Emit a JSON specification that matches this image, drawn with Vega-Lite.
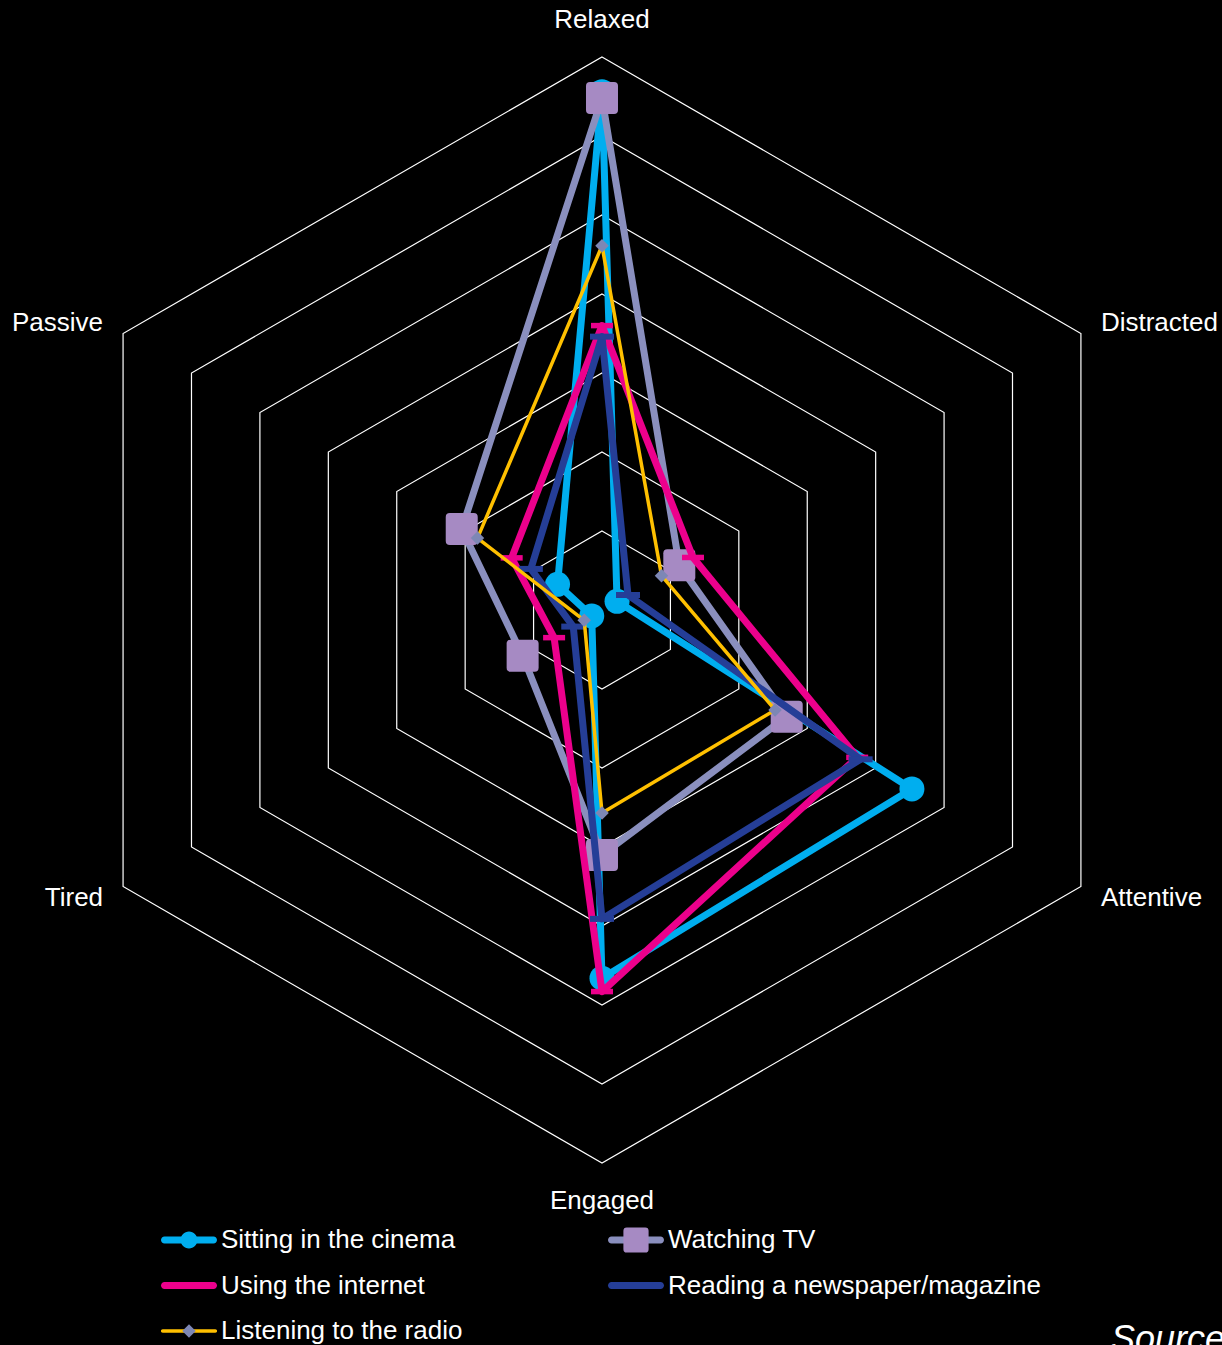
{
  "$schema": "https://vega.github.io/schema/vega-lite/v6.json",
  "width": 1222,
  "height": 1300,
  "autosize": {"type": "none"},
  "padding": {"left": 0, "top": 0, "right": 0, "bottom": 45},
  "background": "#000000",
  "config": {"view": {"stroke": null}, "font": "Liberation Sans"},
  "title": {"text": "Source: ", "orient": "bottom", "anchor": "start", "frame": "group", "dx": 1111, "offset": 7, "font": "Liberation Sans", "fontSize": 36, "fontStyle": "italic", "fontWeight": "normal", "color": "#FFFFFF", "baseline": "alphabetic"},
  "datasets": {
    "scores": [
      {"series": "Sitting in the cinema", "axis": "Relaxed", "k": 0, "value": 65.6},
      {"series": "Sitting in the cinema", "axis": "Distracted", "k": 1, "value": 2.2},
      {"series": "Sitting in the cinema", "axis": "Attentive", "k": 2, "value": 45.3},
      {"series": "Sitting in the cinema", "axis": "Engaged", "k": 3, "value": 46.6},
      {"series": "Sitting in the cinema", "axis": "Tired", "k": 4, "value": 1.5},
      {"series": "Sitting in the cinema", "axis": "Passive", "k": 5, "value": 6.5},
      {"series": "Watching TV", "axis": "Relaxed", "k": 0, "value": 64.8},
      {"series": "Watching TV", "axis": "Distracted", "k": 1, "value": 11.3},
      {"series": "Watching TV", "axis": "Attentive", "k": 2, "value": 27.0},
      {"series": "Watching TV", "axis": "Engaged", "k": 3, "value": 31.0},
      {"series": "Watching TV", "axis": "Tired", "k": 4, "value": 11.6},
      {"series": "Watching TV", "axis": "Passive", "k": 5, "value": 20.5},
      {"series": "Using the internet", "axis": "Relaxed", "k": 0, "value": 36.0},
      {"series": "Using the internet", "axis": "Distracted", "k": 1, "value": 13.3},
      {"series": "Using the internet", "axis": "Attentive", "k": 2, "value": 37.3},
      {"series": "Using the internet", "axis": "Engaged", "k": 3, "value": 48.3},
      {"series": "Using the internet", "axis": "Tired", "k": 4, "value": 7.0},
      {"series": "Using the internet", "axis": "Passive", "k": 5, "value": 13.2},
      {"series": "Reading a newspaper/magazine", "axis": "Relaxed", "k": 0, "value": 34.6},
      {"series": "Reading a newspaper/magazine", "axis": "Distracted", "k": 1, "value": 3.8},
      {"series": "Reading a newspaper/magazine", "axis": "Attentive", "k": 2, "value": 37.8},
      {"series": "Reading a newspaper/magazine", "axis": "Engaged", "k": 3, "value": 39.1},
      {"series": "Reading a newspaper/magazine", "axis": "Tired", "k": 4, "value": 4.2},
      {"series": "Reading a newspaper/magazine", "axis": "Passive", "k": 5, "value": 10.4},
      {"series": "Listening to the radio", "axis": "Relaxed", "k": 0, "value": 46.1},
      {"series": "Listening to the radio", "axis": "Distracted", "k": 1, "value": 8.7},
      {"series": "Listening to the radio", "axis": "Attentive", "k": 2, "value": 25.3},
      {"series": "Listening to the radio", "axis": "Engaged", "k": 3, "value": 25.7},
      {"series": "Listening to the radio", "axis": "Tired", "k": 4, "value": 2.6},
      {"series": "Listening to the radio", "axis": "Passive", "k": 5, "value": 18.2}
    ],
    "rings": [
      {"ring": 10, "k": [0, 1, 2, 3, 4, 5]},
      {"ring": 20, "k": [0, 1, 2, 3, 4, 5]},
      {"ring": 30, "k": [0, 1, 2, 3, 4, 5]},
      {"ring": 40, "k": [0, 1, 2, 3, 4, 5]},
      {"ring": 50, "k": [0, 1, 2, 3, 4, 5]},
      {"ring": 60, "k": [0, 1, 2, 3, 4, 5]},
      {"ring": 70, "k": [0, 1, 2, 3, 4, 5]}
    ],
    "axes": [
      {"axis": "Relaxed", "k": 0, "value": 70},
      {"axis": "Distracted", "k": 1, "value": 70},
      {"axis": "Attentive", "k": 2, "value": 70},
      {"axis": "Engaged", "k": 3, "value": 70},
      {"axis": "Tired", "k": 4, "value": 70},
      {"axis": "Passive", "k": 5, "value": 70}
    ]
  },
  "resolve": {"scale": {"fill": "independent", "shape": "independent"}},
  "layer": [
    {
      "data": {"name": "rings"},
      "transform": [
        {"flatten": ["k"]},
        {"calculate": "datum.ring * sin(datum.k * PI / 3)", "as": "px"},
        {"calculate": "datum.ring * cos(datum.k * PI / 3)", "as": "py"}
      ],
      "mark": {"type": "line", "interpolate": "linear-closed", "color": "#FFFFFF", "strokeWidth": 1.2},
      "encoding": {
        "x": {"field": "px", "type": "quantitative", "scale": {"domain": [-76.2, 78.48], "nice": false, "zero": false}, "axis": null},
        "y": {"field": "py", "type": "quantitative", "scale": {"domain": [-87.342, 77.215], "nice": false, "zero": false}, "axis": null},
        "detail": {"field": "ring", "type": "nominal"},
        "order": {"field": "k", "type": "quantitative"}
      }
    },
    {
      "data": {"name": "axes"},
      "transform": [
        {"calculate": "datum.value * sin(datum.k * PI / 3)", "as": "px"},
        {"calculate": "datum.value * cos(datum.k * PI / 3)", "as": "py"}
      ],
      "encoding": {
        "x": {"field": "px", "type": "quantitative"},
        "y": {"field": "py", "type": "quantitative"},
        "text": {"field": "axis", "type": "nominal"}
      },
      "layer": [
        {"transform": [{"filter": "datum.k == 0"}], "mark": {"type": "text", "font": "Liberation Sans", "fontSize": 26, "color": "#FFFFFF", "align": "center", "baseline": "alphabetic", "dy": -29}},
        {"transform": [{"filter": "datum.k == 3"}], "mark": {"type": "text", "font": "Liberation Sans", "fontSize": 26, "color": "#FFFFFF", "align": "center", "baseline": "alphabetic", "dy": 46}},
        {"transform": [{"filter": "datum.k == 1"}], "mark": {"type": "text", "font": "Liberation Sans", "fontSize": 26, "color": "#FFFFFF", "align": "left", "baseline": "alphabetic", "dx": 20, "dy": -2.5}},
        {"transform": [{"filter": "datum.k == 2"}], "mark": {"type": "text", "font": "Liberation Sans", "fontSize": 26, "color": "#FFFFFF", "align": "left", "baseline": "alphabetic", "dx": 20, "dy": 19.5}},
        {"transform": [{"filter": "datum.k == 4"}], "mark": {"type": "text", "font": "Liberation Sans", "fontSize": 26, "color": "#FFFFFF", "align": "right", "baseline": "alphabetic", "dx": -20, "dy": 19.5}},
        {"transform": [{"filter": "datum.k == 5"}], "mark": {"type": "text", "font": "Liberation Sans", "fontSize": 26, "color": "#FFFFFF", "align": "right", "baseline": "alphabetic", "dx": -20, "dy": -2.5}}
      ]
    },
    {
      "data": {"name": "scores"},
      "transform": [
        {"calculate": "datum.value * sin(datum.k * PI / 3)", "as": "px"},
        {"calculate": "datum.value * cos(datum.k * PI / 3)", "as": "py"}
      ],
      "encoding": {
        "x": {"field": "px", "type": "quantitative"},
        "y": {"field": "py", "type": "quantitative"},
        "order": {"field": "k", "type": "quantitative"}
      },
      "layer": [
        {"transform": [{"filter": "datum.series == 'Sitting in the cinema'"}], "mark": {"type": "line", "interpolate": "linear-closed", "color": "#00AEEF", "strokeWidth": 7, "strokeJoin": "round", "strokeCap": "round"}},
        {"transform": [{"filter": "datum.series == 'Sitting in the cinema'"}], "mark": {"type": "point", "shape": "circle", "filled": true, "size": 625, "color": "#00AEEF", "opacity": 1, "strokeWidth": 0}},
        {"transform": [{"filter": "datum.series == 'Watching TV'"}], "mark": {"type": "line", "interpolate": "linear-closed", "color": "#8A8FBE", "strokeWidth": 7, "strokeJoin": "round", "strokeCap": "round"}},
        {"transform": [{"filter": "datum.series == 'Watching TV'"}], "mark": {"type": "point", "shape": "M-1,-0.75Q-1,-1,-0.75,-1H0.75Q1,-1,1,-0.75V0.75Q1,1,0.75,1H-0.75Q-1,1,-1,0.75Z", "filled": true, "size": 1024, "color": "#A68AC3", "opacity": 1, "strokeWidth": 0}},
        {"transform": [{"filter": "datum.series == 'Using the internet'"}], "mark": {"type": "line", "interpolate": "linear-closed", "color": "#EC008C", "strokeWidth": 7, "strokeJoin": "round", "strokeCap": "round"}},
        {"transform": [{"filter": "datum.series == 'Using the internet'"}], "mark": {"type": "point", "shape": "M-1,-0.25H1V0.25H-1Z", "filled": true, "size": 484, "color": "#EC008C", "opacity": 1, "strokeWidth": 0}},
        {"transform": [{"filter": "datum.series == 'Reading a newspaper/magazine'"}], "mark": {"type": "line", "interpolate": "linear-closed", "color": "#253E97", "strokeWidth": 7, "strokeJoin": "round", "strokeCap": "round"}},
        {"transform": [{"filter": "datum.series == 'Reading a newspaper/magazine'"}], "mark": {"type": "point", "shape": "M-1,-0.25H1V0.25H-1Z", "filled": true, "size": 576, "color": "#253E97", "opacity": 1, "strokeWidth": 0}},
        {"transform": [{"filter": "datum.series == 'Listening to the radio'"}], "mark": {"type": "line", "interpolate": "linear-closed", "color": "#FFC000", "strokeWidth": 3.5, "strokeJoin": "round", "strokeCap": "round"}},
        {"transform": [{"filter": "datum.series == 'Listening to the radio'"}], "mark": {"type": "point", "shape": "diamond", "filled": true, "size": 182, "color": "#7D87B5", "opacity": 1, "strokeWidth": 0}}
      ]
    },
    {
      "data": {"name": "scores"},
      "transform": [{"filter": "false"}],
      "mark": {"type": "point", "filled": true, "opacity": 1, "strokeWidth": 0},
      "encoding": {
        "fill": {"field": "series", "type": "nominal",
          "scale": {"domain": ["Sitting in the cinema", "Watching TV", "Using the internet", "Reading a newspaper/magazine", "Listening to the radio"], "range": ["#00AEEF", "#8A8FBE", "#EC008C", "#253E97", "#FFC000"]},
          "legend": {"title": null, "orient": "none", "direction": "horizontal", "legendX": 161, "legendY": 1212, "columns": 2, "columnPadding": 145, "rowPadding": 4.5, "symbolSize": 3136, "symbolStrokeWidth": 0, "symbolOffset": 0, "labelFont": "Liberation Sans", "labelFontSize": 26, "labelColor": "#FFFFFF", "labelOffset": 4, "labelLimit": 0, "padding": 0}},
        "shape": {"field": "series", "type": "nominal",
          "scale": {"domain": ["Sitting in the cinema", "Watching TV", "Using the internet", "Reading a newspaper/magazine", "Listening to the radio"], "range": [
            "M-0.875,-0.125H0.875A0.125,0.125,0,0,1,0.875,0.125H-0.875A0.125,0.125,0,0,1,-0.875,-0.125Z",
            "M-0.875,-0.125H0.875A0.125,0.125,0,0,1,0.875,0.125H-0.875A0.125,0.125,0,0,1,-0.875,-0.125Z",
            "M-0.875,-0.125H0.875A0.125,0.125,0,0,1,0.875,0.125H-0.875A0.125,0.125,0,0,1,-0.875,-0.125Z",
            "M-0.875,-0.125H0.875A0.125,0.125,0,0,1,0.875,0.125H-0.875A0.125,0.125,0,0,1,-0.875,-0.125Z",
            "M-0.94,-0.0625H0.94A0.0625,0.0625,0,0,1,0.94,0.0625H-0.94A0.0625,0.0625,0,0,1,-0.94,-0.0625Z"]},
          "legend": {"title": null, "orient": "none", "direction": "horizontal", "legendX": 161, "legendY": 1212, "columns": 2, "columnPadding": 145, "rowPadding": 4.5, "symbolSize": 3136, "symbolStrokeWidth": 0, "symbolOffset": 0, "labelFont": "Liberation Sans", "labelFontSize": 26, "labelColor": "#FFFFFF", "labelOffset": 4, "labelLimit": 0, "padding": 0}}
      }
    },
    {
      "data": {"name": "scores"},
      "transform": [{"filter": "false"}],
      "mark": {"type": "point", "filled": true, "opacity": 1, "strokeWidth": 0},
      "encoding": {
        "fill": {"field": "series", "type": "nominal",
          "scale": {"domain": ["Sitting in the cinema", "Watching TV", "Using the internet", "Reading a newspaper/magazine", "Listening to the radio"], "range": ["#00AEEF", "#A68AC3", "#EC008C", "#253E97", "#7D87B5"]},
          "legend": {"title": null, "orient": "none", "direction": "horizontal", "legendX": 161, "legendY": 1212, "columns": 2, "columnPadding": 145, "rowPadding": 4.5, "symbolSize": 3136, "symbolStrokeWidth": 0, "symbolOffset": 0, "labelFont": "Liberation Sans", "labelFontSize": 26, "labelColor": "#FFFFFF", "labelOpacity": 0, "labelOffset": 4, "labelLimit": 0, "padding": 0}},
        "shape": {"field": "series", "type": "nominal",
          "scale": {"domain": ["Sitting in the cinema", "Watching TV", "Using the internet", "Reading a newspaper/magazine", "Listening to the radio"], "range": [
            "M-1,0L1,0M-0.3,0A0.3,0.3,0,1,1,0.3,0A0.3,0.3,0,1,1,-0.3,0Z",
            "M-1,0L1,0M-0.45,-0.33Q-0.45,-0.45,-0.33,-0.45H0.33Q0.45,-0.45,0.45,-0.33V0.33Q0.45,0.45,0.33,0.45H-0.33Q-0.45,0.45,-0.45,0.33Z",
            "M-1,0L1,0",
            "M-1,0L1,0",
            "M-1,0L1,0M0,-0.24L0.24,0L0,0.24L-0.24,0Z"]},
          "legend": {"title": null, "orient": "none", "direction": "horizontal", "legendX": 161, "legendY": 1212, "columns": 2, "columnPadding": 145, "rowPadding": 4.5, "symbolSize": 3136, "symbolStrokeWidth": 0, "symbolOffset": 0, "labelFont": "Liberation Sans", "labelFontSize": 26, "labelColor": "#FFFFFF", "labelOpacity": 0, "labelOffset": 4, "labelLimit": 0, "padding": 0}}
      }
    }
  ]
}
